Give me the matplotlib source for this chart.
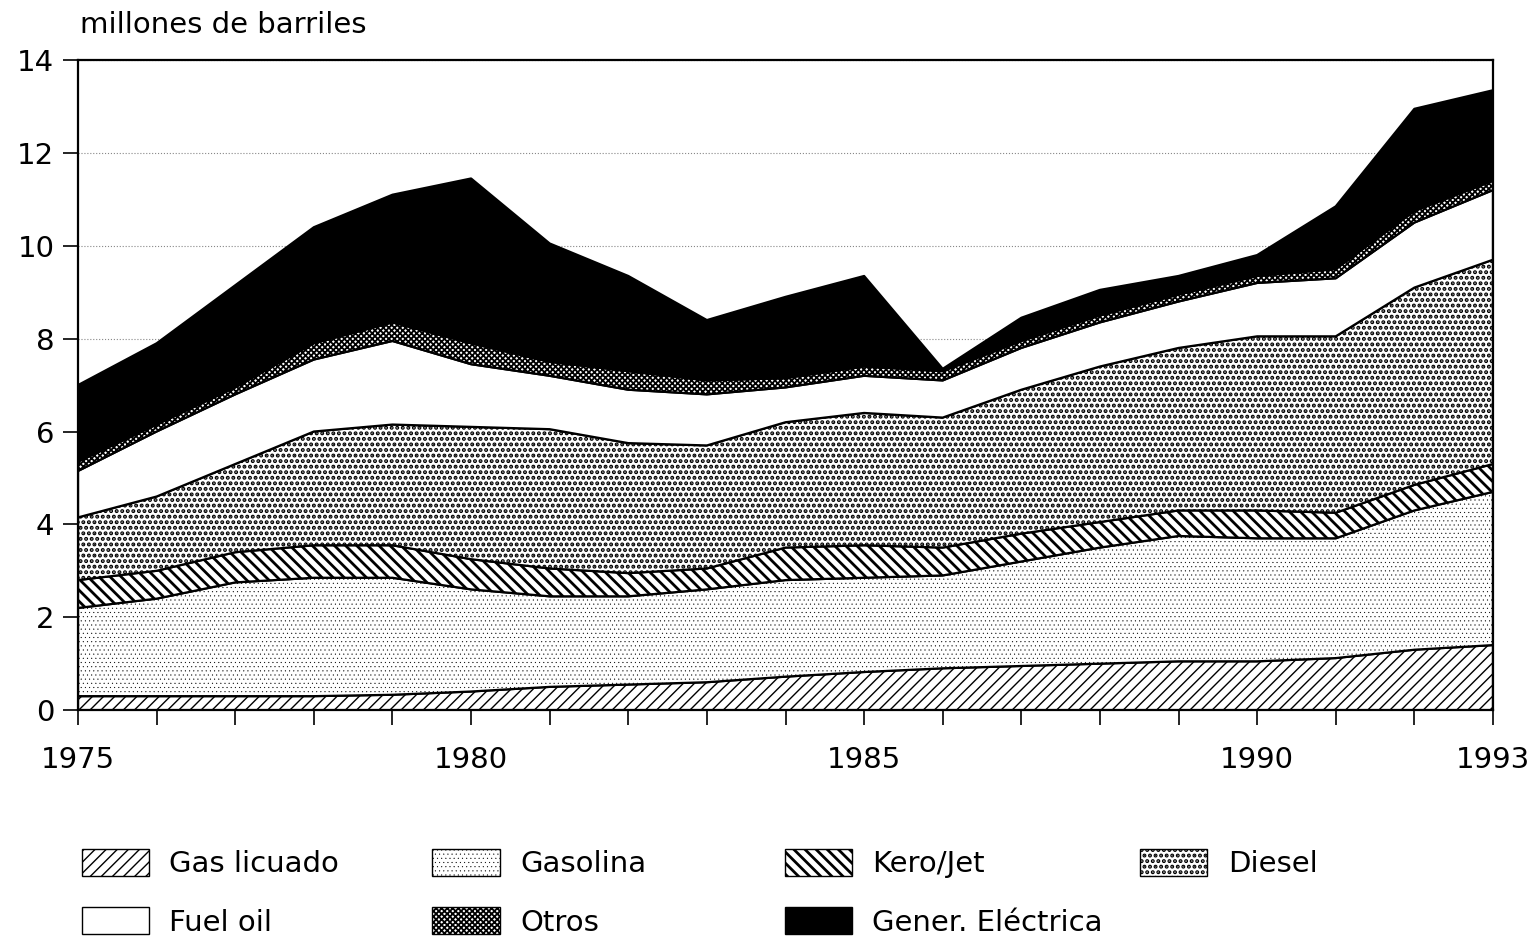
import matplotlib.pyplot as plt
import numpy as np
from matplotlib.patches import Patch

# consumo de derivados, millones de barriles
years = list(range(1975, 1994))
gas_licuado = [0.3, 0.3, 0.3, 0.3, 0.33, 0.4, 0.5, 0.55, 0.6, 0.72, 0.82, 0.9, 0.95, 1.0, 1.05, 1.05, 1.12, 1.3, 1.4]
gasolina = [1.9, 2.1, 2.45, 2.55, 2.52, 2.2, 1.95, 1.9, 2.0, 2.08, 2.03, 2.0, 2.25, 2.5, 2.7, 2.65, 2.58, 3.0, 3.3]
kero_jet = [0.6, 0.6, 0.65, 0.7, 0.7, 0.65, 0.6, 0.5, 0.45, 0.7, 0.7, 0.6, 0.6, 0.55, 0.55, 0.6, 0.55, 0.55, 0.6]
diesel = [1.35, 1.6, 1.9, 2.45, 2.6, 2.85, 3.0, 2.8, 2.65, 2.7, 2.85, 2.8, 3.1, 3.35, 3.5, 3.75, 3.8, 4.25, 4.4]
fuel_oil = [1.0, 1.4, 1.5, 1.55, 1.8, 1.35, 1.15, 1.15, 1.1, 0.75, 0.8, 0.8, 0.9, 0.95, 1.0, 1.15, 1.25, 1.4, 1.5]
otros = [0.2, 0.15, 0.15, 0.35, 0.4, 0.45, 0.3, 0.4, 0.3, 0.2, 0.2, 0.2, 0.15, 0.15, 0.15, 0.15, 0.2, 0.25, 0.2]
gener_electrica = [1.65, 1.75, 2.2, 2.5, 2.75, 3.55, 2.55, 2.05, 1.3, 1.75, 1.95, 0.05, 0.5, 0.55, 0.4, 0.45, 1.35, 2.2, 1.95]

labels = ['Gas licuado', 'Gasolina', 'Kero/Jet', 'Diesel', 'Fuel oil', 'Otros', 'Gener. Eléctrica']
x_labels = ['1975', '1980', '1985', '1990', '1993']
y_ticks = [0, 2, 4, 6, 8, 10, 12, 14]

plt.rcParams['font.family'] = ['DejaVu Sans']
FS = 21

# estilo de cada capa: (hatch, color de fondo, grosor del hatch)
styles = [
    ('///', 'white', 1.0),
    ('....', 'white', 0.25),
    ('\\\\\\', 'white', 2.0),
    ('...', 'white', 2.0),
    ('', 'white', 1.0),
    ('xxxxxx', 'white', 1.3),
    ('', 'black', 1.0),
]
data = [gas_licuado, gasolina, kero_jet, diesel, fuel_oil, otros, gener_electrica]

fig = plt.figure(figsize=(15.39, 9.43), dpi=100)
ax = fig.add_axes([0.0507, 0.247, 0.9194, 0.6893])

base = np.zeros(len(years))
handles = []
for values, (hatch, face, hlw), lab in zip(data, styles, labels):
    top = base + np.array(values)
    with plt.rc_context({'hatch.linewidth': hlw}):
        ax.fill_between(years, base, top, facecolor=face, edgecolor='black',
                        hatch=hatch, linewidth=1.6, zorder=2)
    handles.append(Patch(facecolor=face, edgecolor='black', hatch=hatch,
                         linewidth=1.0, label=lab))
    base = top

ax.set_xlim(1975, 1993)
ax.set_ylim(0, 14)
ax.set_xticks(years)
ax.set_xticklabels([str(y) if str(y) in x_labels else '' for y in years])
ax.set_yticks(y_ticks)
ax.tick_params(axis='x', direction='out', length=11, width=1.2, pad=15, labelsize=FS)
ax.tick_params(axis='y', direction='out', length=11, width=1.2, pad=6, labelsize=FS)
ax.grid(axis='y', linestyle=':', color='#888888', linewidth=0.8, zorder=0)
ax.set_axisbelow(True)
for s in ax.spines.values():
    s.set_linewidth(1.6)

fig.text(0.052, 0.973, 'millones de barriles', fontsize=FS, va='center', ha='left')

# leyenda en 4 columnas alineadas
col_x = [0.053, 0.281, 0.510, 0.741]
cols = [[0, 4], [1, 5], [2, 6], [3]]
for cx, idx in zip(col_x, cols):
    leg = fig.legend([handles[i] for i in idx], [labels[i] for i in idx],
                     loc='upper left', bbox_to_anchor=(cx, 0.100), frameon=False,
                     fontsize=FS, handlelength=2.3, handleheight=1.05,
                     handletextpad=0.7, labelspacing=1.0, borderpad=0, borderaxespad=0)
    for p, i in zip(leg.get_patches(), idx):
        if hasattr(p, 'set_hatch_linewidth'):
            p.set_hatch_linewidth(styles[i][2])
        else:
            p._hatch_linewidth = styles[i][2]

fig.savefig('out.png', dpi=100)
